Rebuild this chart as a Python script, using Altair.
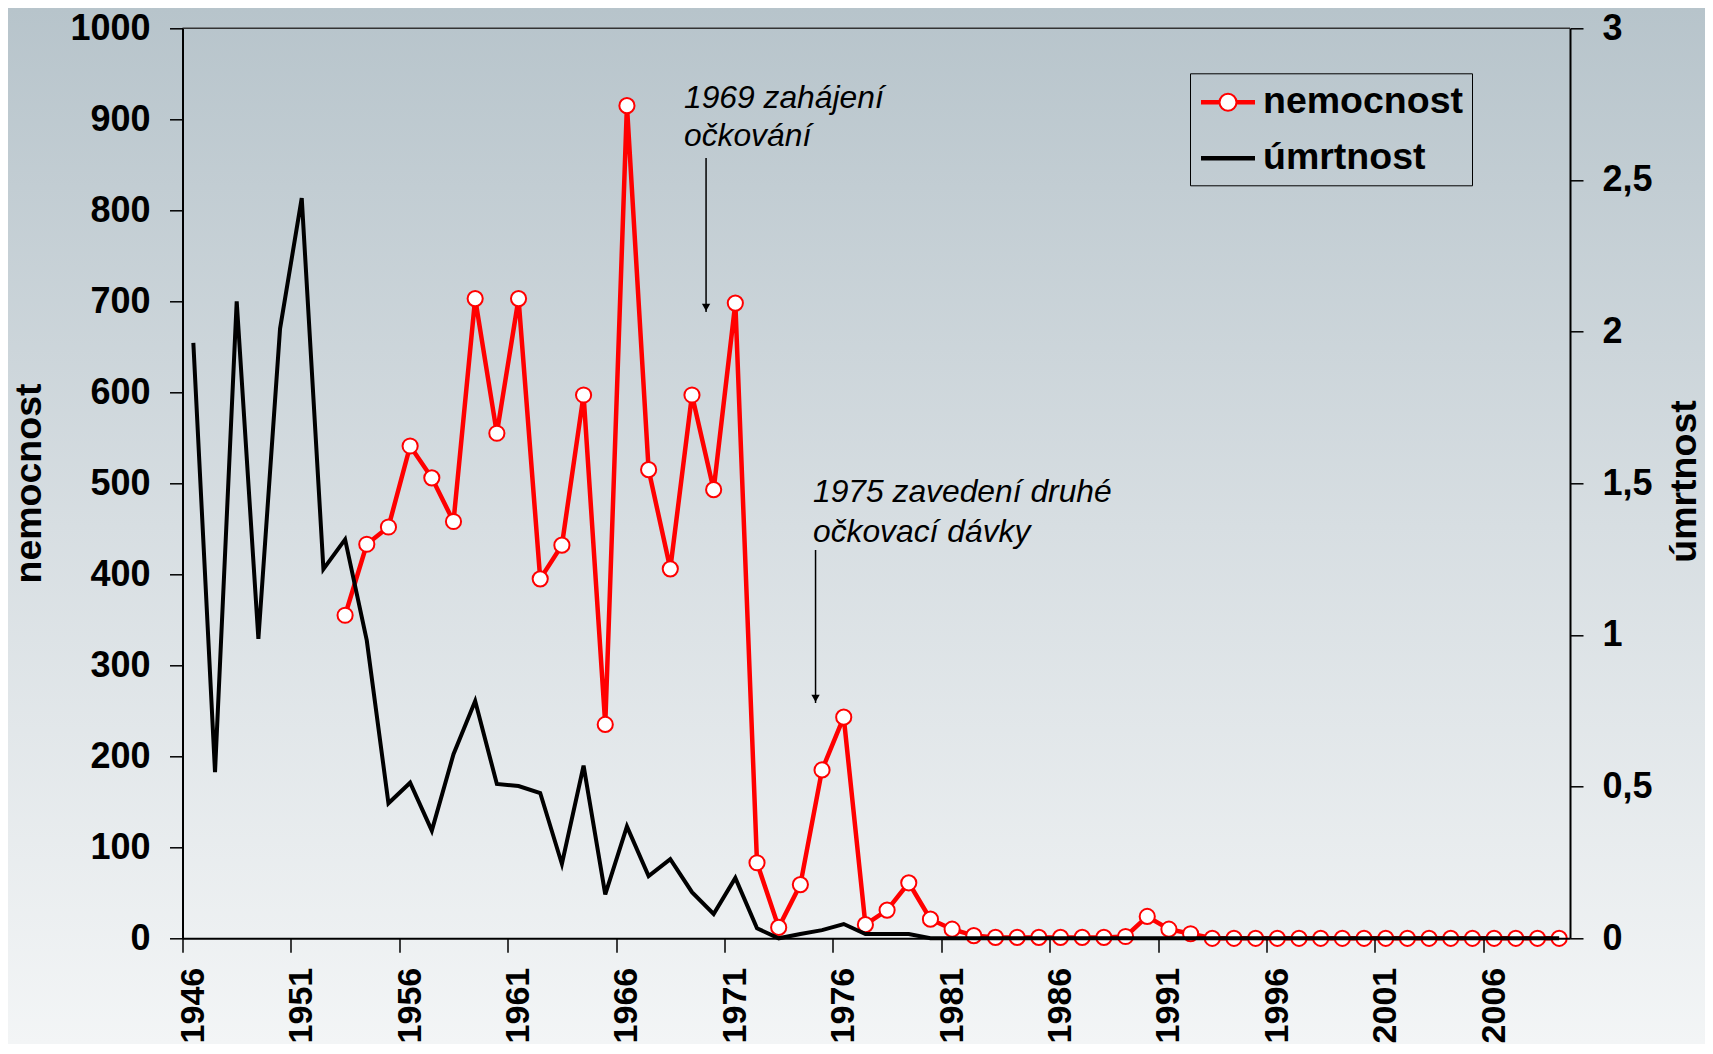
import altair as alt
import pandas as pd

FONT = "Liberation Sans"

years = list(range(1946, 2010))
nemocnost = [None, None, None, None, None, None, None,
             355, 433, 452, 541, 506, 458, 703, 555, 703, 395,
             432, 597, 235, 915, 515, 406, 597, 493, 698, 83,
             12, 59, 185, 243, 15, 31, 61, 21, 10, 3,
             1, 1, 1, 1, 1, 1, 2, 24, 10, 5,
             0, 0, 0, 0, 0, 0, 0, 0, 0, 0,
             0, 0, 0, 0, 0, 0, 0]
umrtnost = [1.963, 0.548, 2.10, 0.987, 2.01, 2.44, 1.217, 1.315, 0.982, 0.445,
            0.513, 0.355, 0.607, 0.782, 0.509, 0.502, 0.479, 0.245, 0.569, 0.145,
            0.369, 0.205, 0.261, 0.152, 0.080, 0.199, 0.033, 0.0, 0.014, 0.027,
            0.047, 0.014, 0.014, 0.014, 0.0, 0.0, 0.0, 0.0, 0.0, 0.0,
            0.0, 0.0, 0.0, 0.0, 0.0, 0.0, 0.0, 0.0, 0.0, 0.0,
            0.0, 0.0, 0.0, 0.0, 0.0, 0.0, 0.0, 0.0, 0.0, 0.0,
            0.0, 0.0, 0.0, 0.0]
series_names = ["nemocnost", "úmrtnost"]
series_colors = ["#ff0000", "#000000"]
year_ticks = [1946, 1951, 1956, 1961, 1966, 1971, 1976, 1981, 1986, 1991, 1996, 2001, 2006]
left_ticks = [0, 100, 200, 300, 400, 500, 600, 700, 800, 900, 1000]
right_ticks = [0, 0.5, 1, 1.5, 2, 2.5, 3]

ann_text = ["1969 zahájení", "očkování", "1975 zavedení druhé", "očkovací dávky"]
ann_x = [1969.13, 1969.13, 1975.08, 1975.08]
ann_y = [912.4, 870.7, 479.5, 435.5]
arrow_x = [1970.15, 1975.2]
arrow_top = [857.5, 426.7]
arrow_bottom = [688.2, 258.6]

df = pd.DataFrame({"year": years, "nemocnost": nemocnost, "umrtnost": umrtnost})
ann_df = pd.DataFrame({"x": ann_x, "y": ann_y, "t": ann_text})
arr_df = pd.DataFrame({"x": arrow_x, "y1": arrow_top, "y2": arrow_bottom})
leg_df = pd.DataFrame({"series": series_names})
one_df = pd.DataFrame({"k": [0]})

W, H = 1387.5, 910
PAD = {"left": 174.5, "top": 20.3, "right": 135, "bottom": 105.7}

x_scale = alt.Scale(domain=[1946, 2010], nice=False, zero=False)
x_axis = alt.Axis(values=year_ticks, format="d", labelAngle=270, labelAlign="right",
                  labelBaseline="middle", labelOffset=10.8, labelPadding=15,
                  tickSize=14, tickWidth=1.5, tickColor="black", domainColor="black",
                  domainWidth=2, labelFontSize=34, labelFontWeight="bold", labelFont=FONT,
                  labelColor="black", grid=False, title=None, zindex=1,
                  labelFlush=False, labelOverlap=False)
left_scale = alt.Scale(domain=[0, 1000], nice=False, zero=True)
left_axis = alt.Axis(orient="left", values=left_ticks, format="d", labelPadding=19.5,
                     tickSize=13, tickWidth=1.5, tickColor="black", domainColor="black",
                     domainWidth=2, labelFontSize=36, labelFontWeight="bold", labelFont=FONT,
                     labelColor="black", grid=False, title="nemocnost", titleAngle=270,
                     titleAlign="center", titleBaseline="alphabetic", titleX=-142.5,
                     titleY=454.7, titleFontSize=37.5, titleFontWeight="bold", titleFont=FONT,
                     titleColor="black", zindex=1, labelFlush=False, labelOverlap=False)
right_scale = alt.Scale(domain=[0, 3], nice=False, zero=True)
right_axis = alt.Axis(orient="right", values=right_ticks,
                      labelExpr="replace(format(datum.value, '~g'), '.', ',')",
                      labelPadding=19, tickSize=13, tickWidth=1.5, tickColor="black",
                      domainColor="black", domainWidth=2, labelFontSize=36,
                      labelFontWeight="bold", labelFont=FONT, labelColor="black", grid=False,
                      title="úmrtnost", titleAngle=270, titleAlign="center",
                      titleBaseline="bottom", titleX=133, titleY=452.7,
                      titleFontSize=37.5, titleFontWeight="bold", titleFont=FONT,
                      titleColor="black", zindex=1, labelFlush=False, labelOverlap=False)

# legend symbol paths (unit square scaled by sqrt(size)/2 = 20px)
PATH_A = ("M-1.35,-0.0625H-0.42M-1.35,0H-0.42M-1.35,0.0625H-0.42"
          "M0.42,-0.0625H1.35M0.42,0H1.35M0.42,0.0625H1.35"
          "M0.425,0A0.425,0.425,0,1,1,-0.425,0A0.425,0.425,0,1,1,0.425,0Z")
PATH_B = "M-1.35,-0.0625H1.35M-1.35,0H1.35M-1.35,0.0625H1.35"

legend = alt.Legend(
    title=None, orient="none", legendX=1007.5, legendY=45, direction="vertical",
    symbolSize=1600, symbolStrokeWidth=2, symbolOffset=9, labelOffset=14, rowPadding=16,
    padding=8, strokeColor="black", labelFontSize=37.5,
    labelFontWeight="bold", labelFont=FONT, labelColor="black", labelLimit=0,
)

xenc = alt.X("xc:Q", scale=x_scale, axis=x_axis)

bg = alt.Chart(one_df).mark_rect(
    fill={"gradient": "linear", "x1": 0, "x2": 0, "y1": 0, "y2": 1,
          "stops": [{"offset": 0, "color": "#b7c4cb"},
                    {"offset": 0.5, "color": "#d7dee2"},
                    {"offset": 1, "color": "#f3f5f6"}]},
).encode(x=alt.value(-174.5), x2=alt.value(1522.5), y=alt.value(-20.3), y2=alt.value(1015.7))

red_line = alt.Chart(df).transform_calculate(xc="datum.year + 0.5").mark_line(
    strokeWidth=4.5, color="#ff0000").encode(
    x=xenc, y=alt.Y("nemocnost:Q", scale=left_scale, axis=left_axis))
red_pts = alt.Chart(df).transform_calculate(xc="datum.year + 0.5").mark_point(
    shape="circle", filled=True, fill="white", stroke="#ff0000", strokeWidth=2,
    size=230, opacity=1).encode(
    x=xenc, y=alt.Y("nemocnost:Q", scale=left_scale, axis=left_axis))
ann = alt.Chart(ann_df).transform_calculate(xc="datum.x").mark_text(
    align="left", baseline="alphabetic", font=FONT, fontSize=31.8, fontStyle="italic",
    color="black").encode(
    x=xenc, y=alt.Y("y:Q", scale=left_scale, axis=left_axis), text="t:N")
arr = alt.Chart(arr_df).transform_calculate(xc="datum.x").mark_rule(
    color="black", strokeWidth=1.5).encode(
    x=xenc, y=alt.Y("y1:Q", scale=left_scale, axis=left_axis), y2="y2:Q")
heads = alt.Chart(arr_df).transform_calculate(xc="datum.x", yh="datum.y2 + 5").mark_point(
    shape="triangle-down", filled=True, color="black", size=70, opacity=1).encode(
    x=xenc, y=alt.Y("yh:Q", scale=left_scale, axis=left_axis))

red_group = alt.layer(red_line, red_pts, ann, arr, heads)

black_line = alt.Chart(df).transform_calculate(xc="datum.year + 0.5").mark_line(
    strokeWidth=4, color="#000000").encode(
    x=xenc, y=alt.Y("umrtnost:Q", scale=right_scale, axis=right_axis))

# invisible layer that only carries the legend
leg_layer = alt.Chart(leg_df).mark_point(
    filled=False, fill="white", strokeWidth=2, opacity=0).encode(
    stroke=alt.Stroke("series:N", scale=alt.Scale(domain=series_names, range=series_colors),
                      legend=legend),
    shape=alt.Shape("series:N", scale=alt.Scale(domain=series_names, range=[PATH_A, PATH_B]),
                    legend=legend),
)

top_rule = alt.Chart(one_df).mark_rule(color="#333333", strokeWidth=1.5).encode(
    x=alt.value(0), x2=alt.value(W), y=alt.value(0))

chart = alt.layer(bg, red_group, black_line, top_rule, leg_layer).resolve_scale(
    y="independent").properties(
    width=W, height=H, autosize=alt.AutoSizeParams(type="none"), padding=PAD
).configure_view(stroke=None)

chart.save("out.html", embed_options={"renderer": "svg", "actions": False})
